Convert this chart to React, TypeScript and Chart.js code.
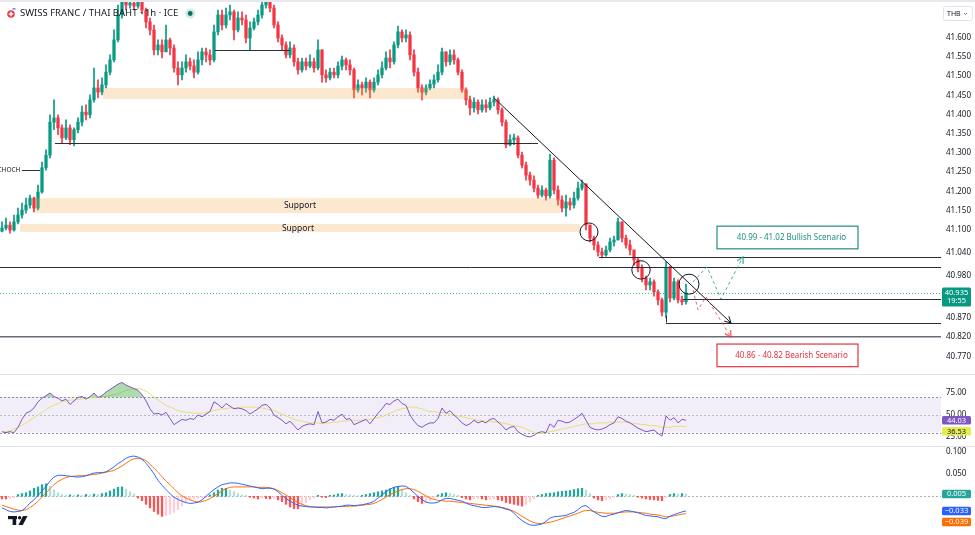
import React, { useEffect, useRef } from "react";
import { Chart, registerables } from "chart.js";
Chart.register(...registerables);

const FONT = '"Noto Sans", "DejaVu Sans", sans-serif';
const AXIS_W = 34;
const X_MIN = -0.5;
const X_MAX = 234.75;
const P_MAX = 41.698;
const P_MIN = 40.724;
const RSI_MAX = 95.45;
const RSI_MIN = 14.77;
const MACD_MAX = 0.1105;
const MACD_MIN = -0.0868;

const title = "SWISS FRANC / THAI BAHT · 1h · ICE";
const lastTime = "19:55";
const currency = "THB";

// ---- price data (1h candles) ----
const firstOpen = 41.096;
const closes = [
  41.104, 41.112, 41.099, 41.12, 41.138, 41.151, 41.164, 41.182, 41.156, 41.198,
  41.261, 41.294, 41.38, 41.391, 41.365, 41.339, 41.365, 41.334, 41.36, 41.38,
  41.406, 41.399, 41.438, 41.469, 41.458, 41.477, 41.51, 41.542, 41.594, 41.659,
  41.693, 41.685, 41.69, 41.682, 41.693, 41.672, 41.641, 41.62, 41.568, 41.581,
  41.563, 41.594, 41.573, 41.521, 41.503, 41.521, 41.537, 41.526, 41.51, 41.542,
  41.563, 41.555, 41.542, 41.615, 41.659, 41.633, 41.659, 41.667, 41.62, 41.651,
  41.646, 41.599, 41.625, 41.641, 41.659, 41.685, 41.693, 41.677, 41.633, 41.599,
  41.581, 41.555, 41.573, 41.537, 41.516, 41.537, 41.526, 41.537, 41.521, 41.568,
  41.503, 41.495, 41.51, 41.503, 41.526, 41.542, 41.529, 41.516, 41.464, 41.477,
  41.469, 41.484, 41.464, 41.484, 41.503, 41.521, 41.547, 41.537, 41.581, 41.615,
  41.599, 41.607, 41.555, 41.51, 41.469, 41.458, 41.469, 41.479, 41.49, 41.51,
  41.563, 41.537, 41.555, 41.542, 41.51, 41.464, 41.438, 41.417, 41.432, 41.412,
  41.425, 41.417, 41.432, 41.438, 41.412, 41.38, 41.321, 41.334, 41.339, 41.294,
  41.268, 41.242, 41.229, 41.208, 41.19, 41.203, 41.188, 41.281, 41.203, 41.177,
  41.156, 41.172, 41.164, 41.182, 41.208, 41.219, 41.112, 41.078, 41.06, 41.042,
  41.034, 41.047, 41.068, 41.073, 41.12, 41.078, 41.06, 41.047, 41.021, 41.0,
  40.974, 40.956, 40.964, 40.938, 40.917, 40.885, 41.0, 40.922, 40.964, 40.917,
  40.912, 40.935,
];
const highs = [
  41.12, 41.13, 41.12, 41.138, 41.156, 41.169, 41.182, 41.19, 41.185, 41.216,
  41.276, 41.308, 41.399, 41.438, 41.399, 41.373, 41.386, 41.373, 41.365, 41.391,
  41.422, 41.425, 41.451, 41.521, 41.49, 41.495, 41.529, 41.555, 41.62, 41.685,
  41.711, 41.711, 41.711, 41.698, 41.711, 41.698, 41.677, 41.651, 41.633, 41.594,
  41.594, 41.633, 41.599, 41.581, 41.537, 41.537, 41.555, 41.547, 41.542, 41.563,
  41.573, 41.573, 41.568, 41.633, 41.672, 41.672, 41.677, 41.685, 41.672, 41.667,
  41.667, 41.659, 41.641, 41.651, 41.672, 41.698, 41.706, 41.706, 41.685, 41.641,
  41.607, 41.589, 41.589, 41.581, 41.547, 41.547, 41.547, 41.555, 41.547, 41.594,
  41.568, 41.516, 41.521, 41.521, 41.537, 41.552, 41.547, 41.542, 41.521, 41.49,
  41.484, 41.495, 41.49, 41.495, 41.516, 41.537, 41.563, 41.568, 41.589, 41.63,
  41.62, 41.62, 41.615, 41.568, 41.521, 41.477, 41.477, 41.49, 41.503, 41.529,
  41.573, 41.563, 41.568, 41.568, 41.547, 41.516, 41.469, 41.448, 41.443, 41.438,
  41.438, 41.438, 41.443, 41.448, 41.443, 41.417, 41.386, 41.347, 41.349, 41.344,
  41.302, 41.276, 41.25, 41.24, 41.216, 41.214, 41.208, 41.297, 41.287, 41.214,
  41.188, 41.19, 41.182, 41.198, 41.224, 41.229, 41.164, 41.112, 41.083, 41.068,
  41.052, 41.057, 41.078, 41.083, 41.13, 41.12, 41.086, 41.073, 41.042, 41.026,
  41.008, 40.979, 40.974, 40.969, 40.943, 40.922, 41.016, 41.005, 40.974, 40.969,
  40.927, 40.958,
];
const lows = [
  41.094, 41.099, 41.091, 41.096, 41.115, 41.13, 41.143, 41.156, 41.146, 41.151,
  41.195, 41.255, 41.287, 41.36, 41.347, 41.326, 41.334, 41.321, 41.318, 41.352,
  41.37, 41.386, 41.391, 41.432, 41.443, 41.451, 41.469, 41.503, 41.537, 41.589,
  41.651, 41.672, 41.677, 41.672, 41.677, 41.662, 41.625, 41.607, 41.555, 41.555,
  41.547, 41.563, 41.555, 41.51, 41.477, 41.49, 41.51, 41.516, 41.495, 41.505,
  41.529, 41.537, 41.529, 41.537, 41.607, 41.62, 41.625, 41.646, 41.594, 41.615,
  41.633, 41.586, 41.568, 41.62, 41.633, 41.651, 41.677, 41.667, 41.625, 41.589,
  41.568, 41.547, 41.547, 41.526, 41.505, 41.51, 41.516, 41.521, 41.51, 41.516,
  41.484, 41.484, 41.49, 41.495, 41.495, 41.516, 41.516, 41.503, 41.443, 41.458,
  41.451, 41.458, 41.443, 41.458, 41.477, 41.495, 41.516, 41.521, 41.531, 41.573,
  41.589, 41.589, 41.542, 41.5, 41.458, 41.438, 41.451, 41.464, 41.469, 41.484,
  41.503, 41.526, 41.529, 41.531, 41.503, 41.458, 41.425, 41.399, 41.406, 41.401,
  41.406, 41.406, 41.412, 41.422, 41.401, 41.37, 41.313, 41.318, 41.321, 41.287,
  41.261, 41.229, 41.216, 41.198, 41.182, 41.185, 41.177, 41.182, 41.193, 41.164,
  41.146, 41.135, 41.151, 41.156, 41.177, 41.203, 41.099, 41.068, 41.047, 41.031,
  41.026, 41.031, 41.042, 41.057, 41.073, 41.068, 41.052, 41.034, 41.008, 40.99,
  40.964, 40.943, 40.943, 40.927, 40.904, 40.875, 40.87, 40.912, 40.917, 40.909,
  40.904, 40.906,
];

// ---- RSI (14) and its moving average ----
const rsi = [
  31, 30, 31, 30, 36, 45, 52, 54, 58, 65,
  69, 72, 75, 71, 69, 66, 68, 62, 66, 70,
  71, 68, 71, 75, 70, 72, 76, 79, 82, 85,
  87, 84, 82, 80, 78, 73, 66, 57, 51, 52,
  50, 53, 46, 39, 42, 45, 44, 46, 45, 50,
  48, 51, 54, 65, 62, 58, 63, 60, 57, 58,
  57, 55, 51, 54, 57, 61, 62, 58, 50, 47,
  44, 40, 43, 38, 33, 37, 39, 40, 39, 54,
  41, 42, 45, 44, 48, 51, 45, 46, 39, 41,
  43, 45, 40, 46, 52, 57, 63, 62, 66, 68,
  63, 61, 50, 43, 38, 36, 39, 41, 41, 46,
  58, 52, 55, 50, 46, 41, 38, 40, 44, 41,
  43, 41, 45, 46, 42, 38, 33, 36, 37, 31,
  28, 26, 25, 27, 30, 31, 30, 40, 36, 44,
  43, 41, 42, 45, 48, 52, 44, 36, 34, 33,
  34, 36, 39, 41, 48, 46, 43, 41, 38, 35,
  33, 31, 32, 33, 29, 26, 49, 44, 47, 41,
  45, 44.03,
];
const rsiMa = [
  30, 31, 32, 34, 36, 38, 41, 44, 47, 50,
  53, 56, 59, 61, 63, 65, 66, 67, 67, 68,
  68, 69, 69, 70, 70, 71, 71, 72, 73, 74,
  76, 78, 79, 80, 80, 79, 77, 74, 70, 67,
  64, 61, 59, 57, 55, 54, 53, 53, 52, 52,
  52, 53, 54, 55, 56, 57, 57, 58, 58, 58,
  59, 59, 59, 59, 58, 58, 57, 56, 55, 53,
  51, 49, 47, 45, 44, 43, 42, 41, 41, 41,
  40, 41, 41, 42, 42, 43, 43, 44, 44, 44,
  44, 45, 45, 46, 47, 48, 50, 52, 54, 56,
  57, 58, 59, 59, 58, 57, 55, 54, 54, 53,
  53, 52, 51, 50, 49, 48, 47, 46, 45, 44,
  44, 43, 43, 42, 42, 41, 40, 39, 38, 37,
  36, 34, 32, 30, 29, 29, 30, 31, 32, 33,
  34, 35, 36, 37, 38, 39, 40, 40, 40, 41,
  41, 41, 42, 42, 42, 42, 42, 41, 40, 40,
  39, 39, 38, 38, 37, 36, 36, 36, 37, 37,
  37, 36.53,
];

// ---- MACD (12, 26, 9) ----
const macd = [
  -0.026, -0.03, -0.034, -0.035, -0.034, -0.032, -0.025, -0.015, -0.008, 0.002,
  0.012, 0.022, 0.034, 0.043, 0.047, 0.047, 0.046, 0.045, 0.044, 0.043,
  0.044, 0.046, 0.049, 0.052, 0.053, 0.053, 0.055, 0.06, 0.066, 0.073,
  0.079, 0.085, 0.089, 0.09, 0.088, 0.083, 0.074, 0.063, 0.05, 0.036,
  0.025, 0.015, 0.006, -0.002, -0.007, -0.011, -0.014, -0.016, -0.015, -0.013,
  -0.008, 0.0, 0.008, 0.015, 0.021, 0.026, 0.028, 0.03, 0.03, 0.029,
  0.027, 0.025, 0.023, 0.021, 0.019, 0.017, 0.018, 0.018, 0.016, 0.01,
  0.002, -0.005, -0.011, -0.016, -0.02, -0.022, -0.023, -0.024, -0.024, -0.025,
  -0.025, -0.026, -0.025, -0.024, -0.023, -0.022, -0.02, -0.02, -0.021, -0.02,
  -0.019, -0.017, -0.015, -0.011, -0.004, 0.003, 0.01, 0.016, 0.02, 0.022,
  0.023, 0.022, 0.016, 0.008, 0.0, -0.007, -0.013, -0.015, -0.015, -0.013,
  -0.008, -0.005, -0.005, -0.007, -0.009, -0.011, -0.015, -0.019, -0.021, -0.023,
  -0.025, -0.025, -0.024, -0.023, -0.024, -0.026, -0.029, -0.031, -0.038, -0.047,
  -0.054, -0.06, -0.064, -0.065, -0.064, -0.062, -0.056, -0.049, -0.046, -0.045,
  -0.044, -0.043, -0.039, -0.036, -0.03, -0.023, -0.021, -0.028, -0.035, -0.04,
  -0.045, -0.045, -0.042, -0.04, -0.037, -0.034, -0.032, -0.033, -0.035, -0.037,
  -0.04, -0.043, -0.044, -0.045, -0.046, -0.049, -0.05, -0.045, -0.041, -0.038,
  -0.035, -0.033,
];
const signal = [
  -0.02, -0.023, -0.026, -0.029, -0.031, -0.032, -0.03, -0.025, -0.019, -0.011,
  -0.002, 0.008, 0.017, 0.026, 0.033, 0.038, 0.042, 0.044, 0.045, 0.046,
  0.046, 0.047, 0.048, 0.049, 0.05, 0.052, 0.054, 0.056, 0.058, 0.063,
  0.068, 0.074, 0.08, 0.084, 0.085, 0.084, 0.08, 0.072, 0.063, 0.054,
  0.044, 0.034, 0.026, 0.017, 0.008, 0.001, -0.004, -0.008, -0.011, -0.013,
  -0.012, -0.009, -0.005, 0.0, 0.006, 0.012, 0.017, 0.02, 0.021, 0.021,
  0.021, 0.021, 0.021, 0.021, 0.02, 0.02, 0.02, 0.019, 0.017, 0.013,
  0.008, 0.003, -0.003, -0.009, -0.014, -0.018, -0.021, -0.023, -0.024, -0.024,
  -0.024, -0.024, -0.024, -0.024, -0.023, -0.023, -0.023, -0.022, -0.022, -0.021,
  -0.02, -0.019, -0.018, -0.016, -0.012, -0.007, -0.002, 0.004, 0.008, 0.012,
  0.015, 0.017, 0.017, 0.015, 0.011, 0.006, 0.001, -0.004, -0.007, -0.009,
  -0.01, -0.011, -0.011, -0.012, -0.013, -0.014, -0.015, -0.016, -0.017, -0.018,
  -0.019, -0.02, -0.021, -0.022, -0.023, -0.025, -0.027, -0.03, -0.034, -0.039,
  -0.045, -0.05, -0.055, -0.059, -0.061, -0.061, -0.06, -0.058, -0.056, -0.053,
  -0.05, -0.047, -0.044, -0.041, -0.038, -0.034, -0.032, -0.032, -0.034, -0.036,
  -0.037, -0.038, -0.038, -0.038, -0.037, -0.036, -0.035, -0.035, -0.035, -0.036,
  -0.037, -0.038, -0.04, -0.041, -0.042, -0.044, -0.046, -0.045, -0.044, -0.042,
  -0.04, -0.039,
];
const hist = [
  -0.006, -0.006, -0.005, -0.003, 0.004, 0.006, 0.008, 0.012, 0.018, 0.021,
  0.026, 0.028, 0.022, 0.014, 0.008, 0.004, 0.002, 0.003, 0.002, 0.003,
  0.002, 0.004, 0.003, 0.005, 0.004, 0.006, 0.008, 0.012, 0.016, 0.02,
  0.021, 0.016, 0.01, 0.005, -0.004, -0.01, -0.018, -0.026, -0.034, -0.04,
  -0.045, -0.043, -0.04, -0.036, -0.03, -0.022, -0.014, -0.008, -0.006, -0.005,
  -0.004, -0.003, 0.003, 0.008, 0.014, 0.018, 0.018, 0.014, 0.01, 0.006,
  0.003, 0.002, -0.002, -0.004, -0.006, -0.004, -0.005, -0.006, -0.005, -0.008,
  -0.012, -0.018, -0.024, -0.028, -0.028, -0.022, -0.014, -0.008, -0.004, 0.002,
  -0.002, -0.003, 0.002, 0.003, 0.005, 0.006, 0.004, 0.003, 0.002, 0.001,
  0.002, 0.004, 0.006, 0.008, 0.01, 0.012, 0.014, 0.017, 0.02, 0.022,
  0.016, 0.008, 0.002, -0.006, -0.012, -0.016, -0.014, -0.01, -0.004, 0.003,
  0.006, 0.008, 0.006, 0.004, 0.002, -0.003, -0.006, -0.008, -0.006, -0.005,
  -0.006, -0.008, -0.007, -0.006, -0.008, -0.01, -0.014, -0.016, -0.018, -0.02,
  -0.022, -0.018, -0.012, -0.006, 0.002, 0.004, 0.006, 0.007, 0.008, 0.01,
  0.011, 0.012, 0.013, 0.015, 0.017, 0.018, 0.014, 0.006, -0.004, -0.008,
  -0.01, -0.008, -0.005, -0.002, 0.004, 0.006, 0.005, 0.004, 0.002, -0.002,
  -0.004, -0.006, -0.007, -0.008, -0.009, -0.01, -0.003, 0.004, 0.006, 0.005,
  0.006, 0.005,
];

// ---- axis ticks ----
const priceTicks = [41.6, 41.55, 41.5, 41.45, 41.4, 41.35, 41.3, 41.25, 41.2, 41.15, 41.1, 41.04, 40.98, 40.87, 40.82, 40.77];
const rsiTicks = [75, 50, 25];
const rsiBands = [70, 50, 30];
const macdTicks = [0.1, 0.05];

// ---- drawings (bar index, price) ----
const zones: [number, number, number, number][] = [
  [25.25, 116.5, 41.469, 41.44],
  [8.25, 139.5, 41.182, 41.143],
  [4.5, 144.5, 41.115, 41.094],
];
const zoneLabels: [string, number, number][] = [
  ["Support", 74.5, 41.163],
  ["Support", 74, 41.104],
];
const levelSegments: [number, number, number][] = [
  [53.25, 72, 41.568],
  [13.25, 134, 41.325],
  [5, 9.5, 41.255],
  [149.25, X_MAX, 41.028],
  [X_MIN, X_MAX, 41.002],
  [170.25, X_MAX, 40.919],
  [166, X_MAX, 40.858],
];
const swingLow: [number, number, number] = [166, 40.858, 40.876];
const keyLevel = 40.821;
const chochLabel: [string, number, number] = ["CHOCH", 4.6, 41.255];
const trendLine: [number, number][] = [[123, 41.443], [182.25, 40.857]];
const circles: [number, number, number][] = [
  [146.75, 41.094, 2.25],
  [159.75, 40.995, 2.3],
  [171.75, 40.958, 2.5],
];
const bullPath: [number, number][] = [[172.75, 40.964], [176.25, 41.003], [179.75, 40.919], [185.25, 41.029]];
const bearPath: [number, number][] = [[172.75, 40.943], [174, 40.891], [176, 40.925], [182.25, 40.82]];
const bullBox: [number, number, number, number] = [178.75, 214, 41.109, 41.05];
const bearBox: [number, number, number, number] = [178.75, 214, 40.802, 40.743];
const bullText = "40.99 - 41.02 Bullish Scenario";
const bearText = "40.86 - 40.82 Bearish Scenario";

// ---- derived tables ----
const UP = "#089981";
const DOWN = "#F23645";
const opens = closes.map((c, i) => (i === 0 ? firstOpen : closes[i - 1]));
const candleHigh = highs.map((h, i) => Math.max(h, opens[i], closes[i]));
const candleLow = lows.map((l, i) => Math.min(l, opens[i], closes[i]));
const candleColor = closes.map((c, i) => (c >= opens[i] ? UP : DOWN));
const histColor = hist.map((v, i) => {
  const prev = i === 0 ? 0 : hist[i - 1];
  if (v >= 0) return v >= prev ? "#26A69A" : "#B2DFDB";
  return v <= prev ? "#FF5252" : "#FFCDD2";
});
const last = closes.length - 1;

function xScale() {
  return { type: "linear", min: X_MIN, max: X_MAX, display: false, offset: false };
}
function yScale(min: number, max: number, ticks: number[], digits: number) {
  return {
    position: "right",
    min,
    max,
    afterFit: (s: any) => {
      s.width = AXIS_W;
      s.paddingTop = 0;
      s.paddingBottom = 0;
      s.paddingLeft = 0;
      s.paddingRight = 0;
    },
    afterBuildTicks: (s: any) => {
      s.ticks = ticks.map((v) => ({ value: v }));
    },
    ticks: {
      autoSkip: false,
      padding: 5,
      color: "#131722",
      font: { size: 8, family: FONT },
      callback: (v: any) => Number(v).toFixed(digits),
    },
    grid: { display: false, drawTicks: false },
    border: { display: false },
  };
}
function baseOptions(y: any) {
  return {
    responsive: false,
    maintainAspectRatio: false,
    animation: false,
    events: [],
    layout: { padding: 0 },
    plugins: { legend: { display: false }, tooltip: { enabled: false } },
    scales: { x: xScale(), y },
  };
}

function arrowHead(ctx: CanvasRenderingContext2D, x0: number, y0: number, x1: number, y1: number, size: number) {
  const a = Math.atan2(y1 - y0, x1 - x0);
  ctx.beginPath();
  ctx.moveTo(x1 - size * Math.cos(a - 0.5), y1 - size * Math.sin(a - 0.5));
  ctx.lineTo(x1, y1);
  ctx.lineTo(x1 - size * Math.cos(a + 0.5), y1 - size * Math.sin(a + 0.5));
  ctx.stroke();
}

function roundRect(ctx: CanvasRenderingContext2D, x: number, y: number, w: number, h: number, r: number) {
  ctx.beginPath();
  ctx.moveTo(x + r, y);
  ctx.lineTo(x + w - r, y);
  ctx.quadraticCurveTo(x + w, y, x + w, y + r);
  ctx.lineTo(x + w, y + h - r);
  ctx.quadraticCurveTo(x + w, y + h, x + w - r, y + h);
  ctx.lineTo(x + r, y + h);
  ctx.quadraticCurveTo(x, y + h, x, y + h - r);
  ctx.lineTo(x, y + r);
  ctx.quadraticCurveTo(x, y, x + r, y);
  ctx.closePath();
}

function drawBadges(chart: any, items: [number, string, string, string][]) {
  const { ctx, chartArea } = chart;
  const ys = chart.scales.y;
  const h = 8.5;
  const list = items.map((it) => ({ y: ys.getPixelForValue(it[0]), bg: it[1], fg: it[2], t: it[3] }));
  list.sort((a, b) => a.y - b.y);
  let prev = -1e9;
  ctx.save();
  ctx.font = `7.5px ${FONT}`;
  ctx.textAlign = "center";
  ctx.textBaseline = "middle";
  list.forEach((b) => {
    const cy = Math.max(b.y, prev + h + 2.5);
    prev = cy;
    ctx.fillStyle = b.bg;
    roundRect(ctx, chartArea.right + 1, cy - h / 2, 29, h, 1.5);
    ctx.fill();
    ctx.fillStyle = b.fg;
    ctx.fillText(b.t, chartArea.right + 15.5, cy + 0.3);
  });
  ctx.restore();
}

const mainPlugin = {
  id: "mainDrawings",
  afterDatasetsDraw(chart: any) {
    const { ctx, chartArea: a } = chart;
    const X = (v: number) => chart.scales.x.getPixelForValue(v);
    const Y = (v: number) => chart.scales.y.getPixelForValue(v);
    ctx.save();
    ctx.beginPath();
    ctx.rect(a.left, a.top, a.right - a.left, a.bottom - a.top);
    ctx.clip();

    ctx.fillStyle = "rgba(245,166,70,0.26)";
    zones.forEach(([x0, x1, p0, p1]) => ctx.fillRect(X(x0), Y(p0), X(x1) - X(x0), Y(p1) - Y(p0)));
    ctx.fillStyle = "#131722";
    ctx.font = `8.5px ${FONT}`;
    ctx.textAlign = "center";
    ctx.textBaseline = "middle";
    zoneLabels.forEach(([t, x, p]) => ctx.fillText(t, X(x), Y(p)));

    ctx.font = `6.5px ${FONT}`;
    ctx.textAlign = "right";
    ctx.fillText(chochLabel[0], X(chochLabel[1]), Y(chochLabel[2]));

    ctx.strokeStyle = "#2a2e39";
    ctx.lineWidth = 1;
    levelSegments.forEach(([x0, x1, p]) => {
      const y = Math.round(Y(p)) + 0.5;
      ctx.beginPath();
      ctx.moveTo(X(x0), y);
      ctx.lineTo(X(x1), y);
      ctx.stroke();
    });
    ctx.beginPath();
    ctx.moveTo(Math.round(X(swingLow[0])) + 0.5, Y(swingLow[1]));
    ctx.lineTo(Math.round(X(swingLow[0])) + 0.5, Y(swingLow[2]));
    ctx.stroke();

    ctx.strokeStyle = "#6a6d78";
    ctx.lineWidth = 1.6;
    ctx.beginPath();
    ctx.moveTo(a.left, Y(keyLevel));
    ctx.lineTo(a.right, Y(keyLevel));
    ctx.stroke();

    // current price line
    ctx.strokeStyle = "rgba(8,153,129,0.75)";
    ctx.lineWidth = 1;
    ctx.setLineDash([1, 2]);
    const cpy = Math.round(Y(closes[last])) + 0.5;
    ctx.beginPath();
    ctx.moveTo(a.left, cpy);
    ctx.lineTo(a.right, cpy);
    ctx.stroke();
    ctx.setLineDash([]);

    // trend line
    ctx.strokeStyle = "#131722";
    ctx.lineWidth = 1;
    const t0x = X(trendLine[0][0]), t0y = Y(trendLine[0][1]);
    const t1x = X(trendLine[1][0]), t1y = Y(trendLine[1][1]);
    ctx.beginPath();
    ctx.moveTo(t0x, t0y);
    ctx.lineTo(t1x, t1y);
    ctx.stroke();
    arrowHead(ctx, t0x, t0y, t1x, t1y, 7);

    // circles
    circles.forEach(([x, p, r]) => {
      ctx.beginPath();
      ctx.arc(X(x), Y(p), X(x + r) - X(x), 0, Math.PI * 2);
      ctx.stroke();
    });

    // scenario paths
    const drawPath = (pts: [number, number][], color: string) => {
      ctx.strokeStyle = color;
      ctx.lineWidth = 1;
      ctx.setLineDash([3, 3]);
      ctx.beginPath();
      pts.forEach(([x, p], i) => (i === 0 ? ctx.moveTo(X(x), Y(p)) : ctx.lineTo(X(x), Y(p))));
      ctx.stroke();
      ctx.setLineDash([]);
      const n = pts.length;
      ctx.lineWidth = 1.3;
      arrowHead(ctx, X(pts[n - 2][0]), Y(pts[n - 2][1]), X(pts[n - 1][0]), Y(pts[n - 1][1]), 7);
    };
    drawPath(bullPath, "rgba(34,160,140,0.85)");
    drawPath(bearPath, "rgba(242,54,69,0.8)");

    // scenario boxes
    const drawBox = (b: [number, number, number, number], text: string, color: string) => {
      const x0 = X(b[0]), x1 = X(b[1]), y0 = Y(b[2]), y1 = Y(b[3]);
      ctx.fillStyle = "rgba(255,255,255,0.9)";
      ctx.fillRect(x0, y0, x1 - x0, y1 - y0);
      ctx.strokeStyle = color;
      ctx.lineWidth = 1.2;
      ctx.strokeRect(x0, y0, x1 - x0, y1 - y0);
      ctx.fillStyle = color;
      ctx.font = `8px ${FONT}`;
      ctx.textAlign = "center";
      ctx.textBaseline = "middle";
      ctx.fillText(text, (x0 + x1) / 2 + 4, (y0 + y1) / 2);
    };
    drawBox(bullBox, bullText, "#1f8f7f");
    drawBox(bearBox, bearText, "#e5323f");
    ctx.restore();
  },
  afterDraw(chart: any) {
    const { ctx, chartArea: a } = chart;
    const Y = (v: number) => chart.scales.y.getPixelForValue(v);
    ctx.save();
    ctx.fillStyle = "#e6e8ee";
    ctx.fillRect(0, 0, chart.width, 2);

    // symbol icon
    ctx.fillStyle = "#e8404a";
    ctx.beginPath();
    ctx.arc(11, 14, 3.8, 0, Math.PI * 2);
    ctx.fill();
    ctx.fillStyle = "#fff";
    ctx.fillRect(10.3, 11.8, 1.4, 4.4);
    ctx.fillRect(8.8, 13.3, 4.4, 1.4);
    ctx.fillStyle = "#2962ff";
    ctx.fillRect(12.5, 8.3, 3, 1.2);

    ctx.fillStyle = "#131722";
    ctx.font = `9.5px ${FONT}`;
    ctx.textAlign = "left";
    ctx.textBaseline = "middle";
    ctx.fillText(title, 20, 13.5);
    const tw = ctx.measureText(title).width;
    ctx.fillStyle = "rgba(8,153,129,0.2)";
    ctx.beginPath();
    ctx.arc(20 + tw + 12, 13.5, 5, 0, Math.PI * 2);
    ctx.fill();
    ctx.fillStyle = "#0b6b5c";
    ctx.beginPath();
    ctx.arc(20 + tw + 12, 13.5, 2.4, 0, Math.PI * 2);
    ctx.fill();

    // currency button
    ctx.strokeStyle = "#e0e3eb";
    ctx.lineWidth = 1;
    roundRect(ctx, a.right + 2.5, 6.5, 29, 14, 2);
    ctx.stroke();
    ctx.fillStyle = "#131722";
    ctx.font = `7px ${FONT}`;
    ctx.fillText(currency, a.right + 6, 14);
    ctx.strokeStyle = "#787b86";
    ctx.beginPath();
    ctx.moveTo(a.right + 23, 13);
    ctx.lineTo(a.right + 24.5, 14.5);
    ctx.lineTo(a.right + 26, 13);
    ctx.stroke();

    // last price badge
    const py = Y(closes[last]);
    ctx.fillStyle = candleColor[last];
    roundRect(ctx, a.right + 1, py - 5.5, 29, 19, 1.5);
    ctx.fill();
    ctx.fillStyle = "#fff";
    ctx.font = `7.5px ${FONT}`;
    ctx.textAlign = "center";
    ctx.fillText(closes[last].toFixed(3), a.right + 15.5, py - 0.5);
    ctx.fillText(lastTime, a.right + 15.5, py + 8);
    ctx.restore();
  },
};

const rsiPlugin = {
  id: "rsiBands",
  beforeDatasetsDraw(chart: any) {
    const { ctx, chartArea: a } = chart;
    const Y = (v: number) => chart.scales.y.getPixelForValue(v);
    ctx.save();
    ctx.fillStyle = "rgba(126,87,194,0.1)";
    ctx.fillRect(a.left, Y(rsiBands[0]), a.right - a.left, Y(rsiBands[2]) - Y(rsiBands[0]));
    ctx.setLineDash([2, 2]);
    ctx.lineWidth = 1;
    rsiBands.forEach((v, i) => {
      ctx.strokeStyle = i === 1 ? "rgba(120,123,134,0.45)" : "rgba(120,123,134,0.8)";
      const y = Math.round(Y(v)) + 0.5;
      ctx.beginPath();
      ctx.moveTo(a.left, y);
      ctx.lineTo(a.right, y);
      ctx.stroke();
    });
    ctx.restore();
  },
  afterDraw(chart: any) {
    drawBadges(chart, [
      [rsi[last], "#7E57C2", "#ffffff", rsi[last].toFixed(2)],
      [rsiMa[last], "#E4EC50", "#131722", rsiMa[last].toFixed(2)],
    ]);
  },
};

const fmtSigned = (v: number) => (v < 0 ? "\u2212" + Math.abs(v).toFixed(3) : v.toFixed(3));

const macdPlugin = {
  id: "macdExtras",
  beforeDatasetsDraw(chart: any) {
    const { ctx, chartArea: a } = chart;
    const y = Math.round(chart.scales.y.getPixelForValue(0)) + 0.5;
    ctx.save();
    ctx.strokeStyle = "rgba(120,123,134,0.6)";
    ctx.setLineDash([2, 2]);
    ctx.lineWidth = 1;
    ctx.beginPath();
    ctx.moveTo(a.left, y);
    ctx.lineTo(a.right, y);
    ctx.stroke();
    ctx.restore();
  },
  afterDraw(chart: any) {
    drawBadges(chart, [
      [hist[last], "#26A69A", "#ffffff", fmtSigned(hist[last])],
      [macd[last], "#2962FF", "#ffffff", fmtSigned(macd[last])],
      [signal[last], "#FF6D00", "#ffffff", fmtSigned(signal[last])],
    ]);
    const ctx = chart.ctx;
    ctx.save();
    ctx.fillStyle = "#131722";
    ctx.fillRect(8, 69, 9, 3.2);
    ctx.fillRect(12.6, 69, 3.6, 9);
    ctx.beginPath();
    ctx.arc(19.6, 70.8, 1.7, 0, Math.PI * 2);
    ctx.fill();
    ctx.beginPath();
    ctx.moveTo(23, 69);
    ctx.lineTo(27.5, 69);
    ctx.lineTo(22.8, 78);
    ctx.lineTo(18.4, 78);
    ctx.closePath();
    ctx.fill();
    ctx.restore();
  },
};

export default function App() {
  const mainRef = useRef<HTMLCanvasElement>(null);
  const rsiRef = useRef<HTMLCanvasElement>(null);
  const macdRef = useRef<HTMLCanvasElement>(null);

  useEffect(() => {
    document.body.style.margin = "0";
    const charts: Chart[] = [];

    charts.push(
      new Chart(mainRef.current as HTMLCanvasElement, {
        type: "bar",
        data: {
          datasets: [
            {
              type: "bar",
              data: closes.map((c, i) => ({ x: i, y: [opens[i], c] })) as any,
              backgroundColor: candleColor,
              barThickness: 2.6,
              minBarLength: 1,
              grouped: false,
              order: 0,
            },
            {
              type: "bar",
              data: candleHigh.map((h, i) => ({ x: i, y: [candleLow[i], h] })) as any,
              backgroundColor: candleColor,
              barThickness: 1,
              grouped: false,
              order: 1,
            },
          ],
        },
        options: baseOptions(yScale(P_MIN, P_MAX, priceTicks, 3)) as any,
        plugins: [mainPlugin],
      })
    );

    charts.push(
      new Chart(rsiRef.current as HTMLCanvasElement, {
        type: "line",
        data: {
          datasets: [
            {
              data: rsi.map((v, i) => ({ x: i, y: v })),
              borderColor: "#7E57C2",
              borderWidth: 1,
              pointRadius: 0,
              tension: 0,
              fill: { target: { value: 70 }, above: "rgba(76,175,80,0.45)", below: "rgba(0,0,0,0)" },
              order: 0,
            },
            {
              data: rsiMa.map((v, i) => ({ x: i, y: v })),
              borderColor: "rgba(226,222,90,0.85)",
              borderWidth: 1,
              pointRadius: 0,
              tension: 0.3,
              fill: false,
              order: 1,
            },
          ],
        } as any,
        options: baseOptions(yScale(RSI_MIN, RSI_MAX, rsiTicks, 2)) as any,
        plugins: [rsiPlugin],
      })
    );

    charts.push(
      new Chart(macdRef.current as HTMLCanvasElement, {
        type: "bar",
        data: {
          datasets: [
            {
              type: "line",
              data: macd.map((v, i) => ({ x: i, y: v })),
              borderColor: "#2962FF",
              borderWidth: 1,
              pointRadius: 0,
              tension: 0.2,
              order: 0,
            },
            {
              type: "line",
              data: signal.map((v, i) => ({ x: i, y: v })),
              borderColor: "#FF6D00",
              borderWidth: 1,
              pointRadius: 0,
              tension: 0.2,
              order: 1,
            },
            {
              type: "bar",
              data: hist.map((v, i) => ({ x: i, y: v })),
              backgroundColor: histColor,
              barThickness: 1.6,
              grouped: false,
              order: 2,
            },
          ],
        } as any,
        options: baseOptions(yScale(MACD_MIN, MACD_MAX, macdTicks, 3)) as any,
        plugins: [macdPlugin],
      })
    );

    return () => charts.forEach((c) => c.destroy());
  }, []);

  return (
    <div style={{ position: "fixed", left: 0, top: 0, width: 975, height: 535, background: "#ffffff", overflow: "hidden" }}>
      <canvas ref={mainRef} width={975} height={374} style={{ position: "absolute", left: 0, top: 0 }} />
      <div style={{ position: "absolute", left: 0, top: 374, width: 975, height: 1, background: "#e0e3eb" }} />
      <canvas ref={rsiRef} width={975} height={71} style={{ position: "absolute", left: 0, top: 375 }} />
      <div style={{ position: "absolute", left: 0, top: 446, width: 975, height: 1, background: "#e0e3eb" }} />
      <canvas ref={macdRef} width={975} height={88} style={{ position: "absolute", left: 0, top: 447 }} />
    </div>
  );
}
